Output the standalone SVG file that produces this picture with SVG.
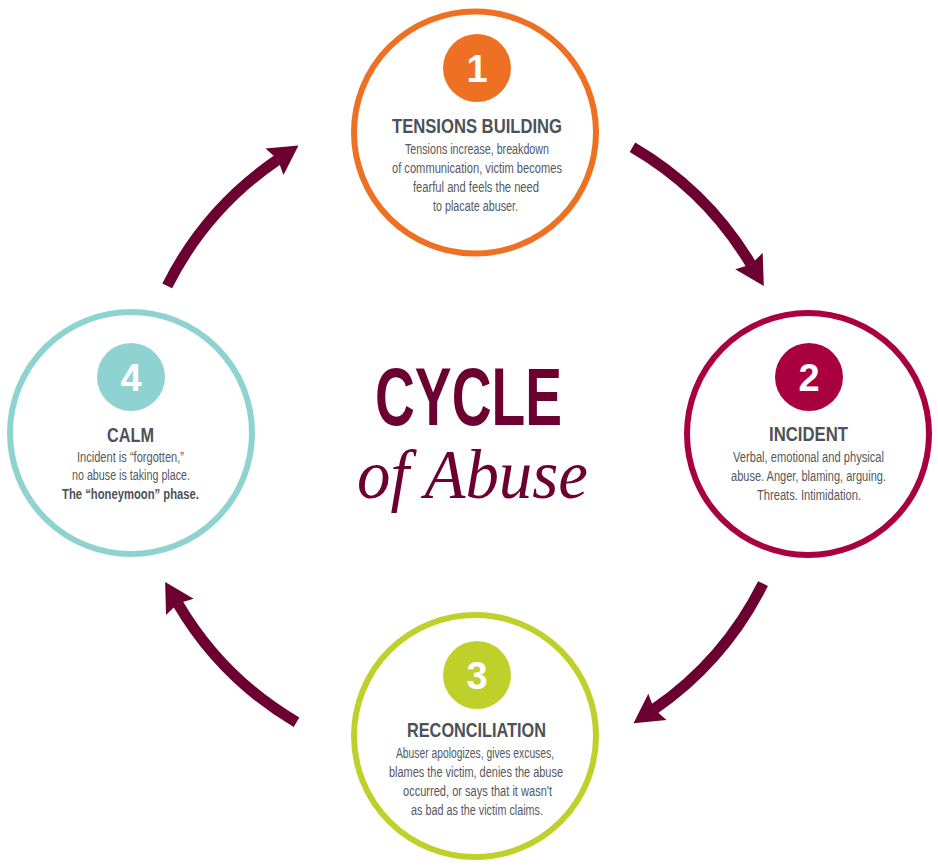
<svg xmlns="http://www.w3.org/2000/svg" width="938" height="865" viewBox="0 0 938 865">
<defs>
<style>
.ring{fill:#fff;stroke-width:6}
.num{font-family:"Liberation Sans",Arial,sans-serif;font-weight:bold;font-size:38px;fill:#fff;text-anchor:middle}
.hd{font-family:"Liberation Sans",Arial,sans-serif;font-weight:bold;font-size:21px;fill:#4E5157;text-anchor:middle}
.bd{font-family:"Liberation Sans",Arial,sans-serif;font-size:15.5px;fill:#55585D;text-anchor:middle}
.bb{font-weight:bold;fill:#4E5157}
.arr{fill:none;stroke:#6B0031;stroke-width:11;stroke-linecap:butt}
.t1{font-family:"Liberation Sans",Arial,sans-serif;font-weight:bold;font-size:82px;fill:#6B0031;text-anchor:middle}
.t2{font-family:"Liberation Serif","Times New Roman",serif;font-style:italic;font-size:69px;fill:#6B0031;text-anchor:middle}
</style>
<marker id="head" markerUnits="userSpaceOnUse" orient="auto" markerWidth="60" markerHeight="60" refX="0" refY="0" viewBox="-10 -30 60 60" overflow="visible">
<path d="M25,0 L-4,-16 L0,0 L-4,16 Z" fill="#6B0031"/>
</marker>
</defs>
<rect width="938" height="865" fill="#fff"/>

<g id="connectors">
<path class="arr" d="M632.5,147.2 A333,333 0 0 1 751.0,264.5" marker-end="url(#head)"/>
<path class="arr" d="M763.0,583.6 A333,333 0 0 1 654.1,709.1" marker-end="url(#head)"/>
<path class="arr" d="M296.5,722.2 A333,333 0 0 1 177.8,603.5" marker-end="url(#head)"/>
<path class="arr" d="M167.2,285.9 A333,333 0 0 1 277.8,159.6" marker-end="url(#head)"/>
</g>

<g id="title">
<text class="t1" x="468.5" y="425" textLength="187" lengthAdjust="spacingAndGlyphs">CYCLE</text>
<text class="t2" x="472.5" y="498" textLength="231" lengthAdjust="spacingAndGlyphs">of Abuse</text>
</g>

<g id="node1">
<circle class="ring" cx="475" cy="132.5" r="121" stroke="#EE7123"/>
<circle cx="477" cy="68" r="34" fill="#EE7123"/>
<text class="num" x="477" y="82">1</text>
<text class="hd" x="477" y="133" textLength="170" lengthAdjust="spacingAndGlyphs">TENSIONS BUILDING</text>
<text class="bd" x="477" y="154" textLength="144" lengthAdjust="spacingAndGlyphs">Tensions increase, breakdown</text>
<text class="bd" x="477" y="173" textLength="170" lengthAdjust="spacingAndGlyphs">of communication, victim becomes</text>
<text class="bd" x="476" y="192" textLength="126" lengthAdjust="spacingAndGlyphs">fearful and feels the need</text>
<text class="bd" x="475.5" y="211" textLength="85" lengthAdjust="spacingAndGlyphs">to placate abuser.</text>
</g>

<g id="node2">
<circle class="ring" cx="808" cy="434" r="121" stroke="#A9003F"/>
<circle cx="809" cy="377" r="34" fill="#A9003F"/>
<text class="num" x="809" y="391">2</text>
<text class="hd" x="808.5" y="441" textLength="79" lengthAdjust="spacingAndGlyphs">INCIDENT</text>
<text class="bd" x="808.5" y="462" textLength="151" lengthAdjust="spacingAndGlyphs">Verbal, emotional and physical</text>
<text class="bd" x="808.5" y="481" textLength="155" lengthAdjust="spacingAndGlyphs">abuse. Anger, blaming, arguing.</text>
<text class="bd" x="809" y="500" textLength="104" lengthAdjust="spacingAndGlyphs">Threats. Intimidation.</text>
</g>

<g id="node3">
<circle class="ring" cx="475" cy="736" r="121" stroke="#C0D02B"/>
<circle cx="477" cy="675" r="34" fill="#C0D02B"/>
<text class="num" x="477" y="689">3</text>
<text class="hd" x="476.5" y="737" textLength="139" lengthAdjust="spacingAndGlyphs">RECONCILIATION</text>
<text class="bd" x="475" y="758" textLength="158" lengthAdjust="spacingAndGlyphs">Abuser apologizes, gives excuses,</text>
<text class="bd" x="476" y="777" textLength="174" lengthAdjust="spacingAndGlyphs">blames the victim, denies the abuse</text>
<text class="bd" x="477.5" y="796" textLength="149" lengthAdjust="spacingAndGlyphs">occurred, or says that it wasn't</text>
<text class="bd" x="477" y="815" textLength="132" lengthAdjust="spacingAndGlyphs">as bad as the victim claims.</text>
</g>

<g id="node4">
<circle class="ring" cx="131" cy="433" r="121" stroke="#8ED3D2"/>
<circle cx="131" cy="377" r="34" fill="#8ED3D2"/>
<text class="num" x="131" y="391">4</text>
<text class="hd" x="130.5" y="442" textLength="47" lengthAdjust="spacingAndGlyphs">CALM</text>
<text class="bd" x="130.5" y="462" textLength="107" lengthAdjust="spacingAndGlyphs">Incident is “forgotten,”</text>
<text class="bd" x="131" y="480" textLength="118" lengthAdjust="spacingAndGlyphs">no abuse is taking place.</text>
<text class="bd bb" x="130.5" y="499" textLength="137" lengthAdjust="spacingAndGlyphs">The “honeymoon” phase.</text>
</g>
</svg>
